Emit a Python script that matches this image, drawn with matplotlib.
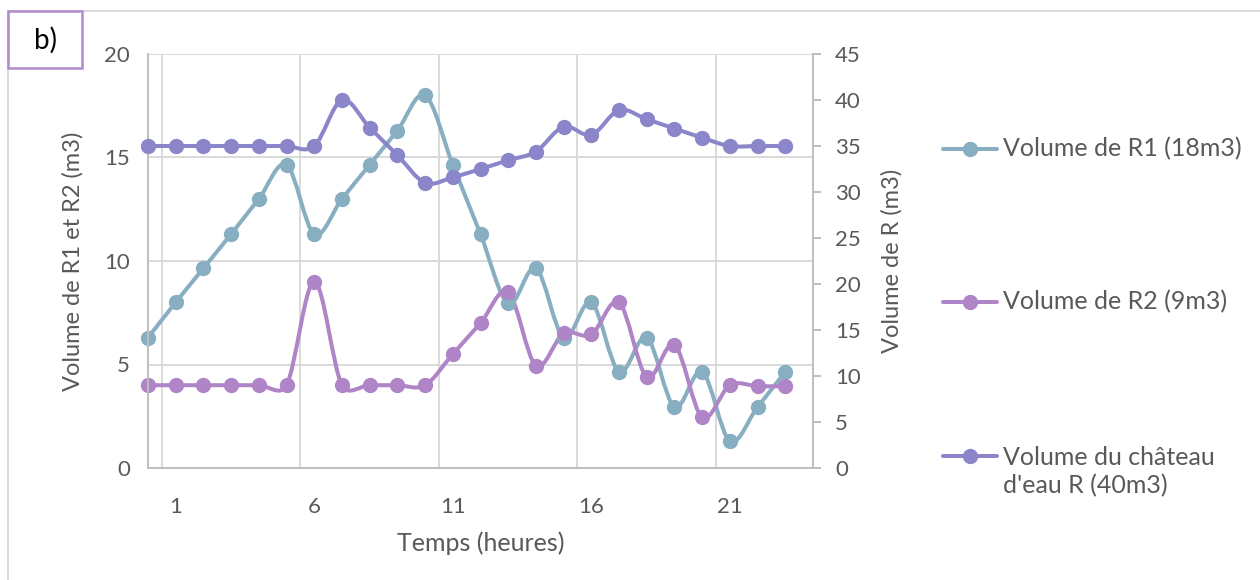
import numpy as np
import matplotlib
matplotlib.use("Agg")
import matplotlib.pyplot as plt
from matplotlib.path import Path
from matplotlib.patches import PathPatch, Rectangle
from matplotlib.lines import Line2D

# ---------------- data ----------------
hours = list(range(24))
r1 = [6.3, 8.0, 9.65, 11.3, 13.0, 14.65, 11.3, 13.0, 14.65, 16.3, 18.0, 14.65,
      11.3, 7.95, 9.65, 6.3, 8.0, 4.65, 6.3, 2.95, 4.65, 1.3, 2.95, 4.65]
r2 = [4.0, 4.0, 4.0, 4.0, 4.0, 4.0, 9.0, 4.0, 4.0, 4.0, 4.0, 5.5,
      7.0, 8.5, 4.95, 6.5, 6.45, 8.0, 4.4, 5.95, 2.45, 4.0, 3.95, 3.95]
chateau = [35, 35, 35, 35, 35, 35, 35, 40, 37, 34, 31, 31.6,
           32.5, 33.45, 34.4, 37.1, 36.2, 38.9, 37.9, 36.9, 35.9, 35, 35, 35]
xtick_vals = [1, 6, 11, 16, 21]
xtick_labels = ["1", "6", "11", "16", "21"]
left_ticks = [0, 5, 10, 15, 20]
right_ticks = [0, 5, 10, 15, 20, 25, 30, 35, 40, 45]
labels = ["Volume de R1 (18m3)", "Volume de R2 (9m3)", "Volume du château\nd'eau R (40m3)"]

C_R1 = "#87AEC1"
C_R2 = "#B085C8"
C_R = "#8A86C9"
TXT = "#595959"
GRID = "#D9D9D9"
SPINE = "#BFBFBF"

plt.rcParams['font.family'] = ['Lato', 'DejaVu Sans']

W, H = 1260, 580
fig = plt.figure(figsize=(W / 100, H / 100), dpi=100)
fig.patch.set_facecolor("white")

def fx(x):
    return x / W

def fy(y):
    return 1 - y / H

L, R, T, B = 148, 813, 54, 468
ax = fig.add_axes([fx(L), fy(B), (R - L) / W, (B - T) / H])
ax.set_xlim(0, 24)
ax.set_ylim(0, 20)
ax.set_yticks(left_ticks)
ax.set_xticks(xtick_vals)
ax.set_xticklabels(xtick_labels)
ax.set_xticks([0.5, 5.5, 10.5, 15.5, 20.5], minor=True)
ax.grid(False)
ax.yaxis.grid(True, which='major', color=GRID, lw=1.4)
ax.xaxis.grid(True, which='minor', color=GRID, lw=1.4)
ax.set_axisbelow(True)
ax.tick_params(axis='both', which='both', length=0, colors=TXT, labelsize=16)
ax.tick_params(axis='y', pad=13)
ax.tick_params(axis='x', pad=21)
for s in ['top', 'right']:
    ax.spines[s].set_visible(False)
for s in ['left', 'bottom']:
    ax.spines[s].set_color(SPINE)
    ax.spines[s].set_linewidth(1.4)

ax2 = ax.twinx()
ax2.set_ylim(0, 45)
ax2.set_yticks(right_ticks)
ax2.tick_params(axis='y', length=6, width=1.4, color=SPINE, labelcolor=TXT, labelsize=16, pad=10)
for s in ['top', 'left', 'bottom']:
    ax2.spines[s].set_visible(False)
ax2.spines['right'].set_color(SPINE)
ax2.spines['right'].set_linewidth(1.4)


def smooth_patch(a, xs, ys, color):
    pts = a.transData.transform(np.column_stack([xs, ys]).astype(float))
    n = len(pts)
    verts = [pts[0]]
    codes = [Path.MOVETO]
    for i in range(n - 1):
        p0 = pts[i - 1] if i > 0 else pts[i]
        p1 = pts[i]
        p2 = pts[i + 1]
        p3 = pts[i + 2] if i + 2 < n else pts[i + 1]
        d = np.linalg.norm(p2 - p1)
        t1 = (p2 - p0) / 6.0
        t2 = (p3 - p1) / 6.0
        for t in (t1, t2):
            m = np.linalg.norm(t)
            if m > d / 2 and m > 0:
                t *= (d / 2) / m
        verts += [p1 + t1, p2 - t2, p2]
        codes += [Path.CURVE4] * 3
    dverts = a.transData.inverted().transform(np.array(verts))
    patch = PathPatch(Path(dverts, codes), facecolor='none', edgecolor=color,
                      lw=2.9, capstyle='round', joinstyle='round')
    a.add_patch(patch)
    a.plot(xs, ys, 'o', ms=10, color=color, mec=color, clip_on=False)


smooth_patch(ax, hours, r1, C_R1)
smooth_patch(ax, hours, r2, C_R2)
smooth_patch(ax2, hours, chateau, C_R)

ax.set_xlabel("Temps (heures)", color=TXT, fontsize=18, labelpad=10)
fig.text(fx(73), fy(261), "Volume de R1 et R2 (m3)", rotation=90, ha='center', va='center',
         color=TXT, fontsize=17)
fig.text(fx(892), fy(261), "Volume de R (m3)", rotation=90, ha='center', va='center',
         color=TXT, fontsize=17)

# legend (manual)
leg_y = [149, 302, 471.5]
mark_y = [149, 302, 456]
for c, my, ty, lab in zip([C_R1, C_R2, C_R], mark_y, leg_y, labels):
    fig.add_artist(Line2D([fx(943), fx(997)], [fy(my), fy(my)], color=c, lw=2.9,
                          solid_capstyle='round', transform=fig.transFigure))
    fig.add_artist(Line2D([fx(970)], [fy(my)], marker='o', ms=10, color=c,
                          transform=fig.transFigure))
    fig.text(fx(1003), fy(ty), lab, ha='left', va='center', color=TXT, fontsize=18,
             linespacing=1.25)

# outer frame
fig.add_artist(Line2D([fx(8), fx(8)], [fy(11), 0], color="#D9D9D9", lw=1.4,
                      transform=fig.transFigure, zorder=1))
fig.add_artist(Line2D([fx(8), 1], [fy(11), fy(11)], color="#D9D9D9", lw=1.4,
                      transform=fig.transFigure, zorder=1))
# "b)" box
fig.add_artist(Rectangle((fx(8), fy(68)), fx(82) - fx(8), fy(11) - fy(68),
                         facecolor='white', edgecolor="#B28BCB", lw=1.8,
                         transform=fig.transFigure, zorder=5))
fig.text(fx(45), fy(40), "b)", ha='center', va='center', color='black', fontsize=20,
         zorder=6)

fig.savefig("out.png", dpi=100)
